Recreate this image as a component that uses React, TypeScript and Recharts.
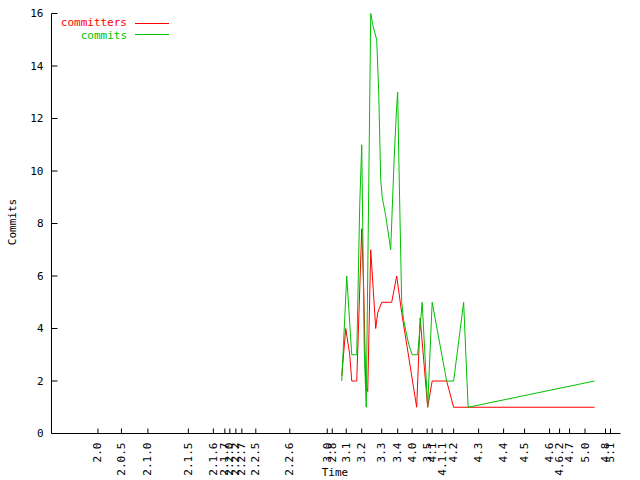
import React from "react";
import { LineChart, Line, XAxis, YAxis } from "recharts";

// release markers on the time axis (days since start)
const releaseDays = [93, 140, 193, 274, 324, 347, 357, 369, 381, 409, 477, 552, 562, 590, 621, 661, 693, 722, 752, 762, 782, 805, 855, 905, 947, 997, 1017, 1037, 1068, 1109, 1119];
const releaseLabels = ["2.0", "2.0.5", "2.1.0", "2.1.5", "2.1.6", "2.1.7", "2.2.0", "2.2.2", "2.2.7", "2.2.5", "2.2.6", "3.0", "2.8", "3.1", "3.2", "3.3", "3.4", "4.0", "3.5", "4.1", "4.1.1", "4.2", "4.3", "4.4", "4.5", "4.6", "4.6.2", "4.7", "5.0", "4.8", "5.1"];

const commitDays = [581, 591, 601, 611, 617, 621, 626, 630, 639, 644, 651, 655, 659, 662, 669, 679, 686, 691, 693, 695, 701, 705, 715, 722, 733, 742, 753, 762, 791, 805, 825, 834, 1087];
const commitCounts = [2, 6, 3, 3, 8.7, 11, 3.2, 1, 16, 15.5, 15, 13, 9.7, 9, 8.3, 7, 10.5, 12.5, 13, 10.7, 5, 4.3, 3.4, 3, 3, 5, 1, 5, 2, 2, 5, 1, 2];

const committerDays = [581, 589, 597, 601, 611, 621, 625, 629, 633, 639, 647, 649, 653, 661, 681, 691, 701, 731, 738, 753, 762, 791, 805, 1087];
const committerCounts = [2.2, 4, 3, 2, 2, 7.8, 5.5, 1.8, 1.6, 7, 4.6, 4, 4.6, 5, 5, 6, 4.6, 1, 4.4, 1, 2, 2, 1, 1];

const countTicks = [0, 2, 4, 6, 8, 10, 12, 14, 16];

const FONT = "'DejaVu Sans Mono', monospace";
const RED = "#ff0000";
const GREEN = "#00c000";

const commitData = commitDays.map((day, i) => ({ day, commits: commitCounts[i] }));
const committerData = committerDays.map((day, i) => ({ day, committers: committerCounts[i] }));

const BottomTick = (props: any) => {
  const { x, y, payload } = props;
  const label = releaseLabels[releaseDays.indexOf(payload.value)];
  const ly = y + 9;
  return (
    <g>
      <line x1={x} y1={y} x2={x} y2={y - 5} stroke="#000" />
      <text x={x} y={ly} transform={`rotate(-90 ${x} ${ly})`} textAnchor="end" dominantBaseline="central" fontFamily={FONT} fontSize={11} fill="#000">
        {label}
      </text>
    </g>
  );
};

const TopTick = (props: any) => {
  const { x, y } = props;
  return <line x1={x} y1={y} x2={x} y2={y + 5} stroke="#000" />;
};

const LeftTick = (props: any) => {
  const { x, y, payload } = props;
  return (
    <g>
      <line x1={x} y1={y} x2={x + 6} y2={y} stroke="#000" />
      <text x={x - 8} y={y} textAnchor="end" dominantBaseline="central" fontFamily={FONT} fontSize={11} fill="#000">
        {payload.value}
      </text>
    </g>
  );
};

const RightTick = (props: any) => {
  const { x, y } = props;
  return <line x1={x} y1={y} x2={x - 6} y2={y} stroke="#000" />;
};

export default function App() {
  return (
    <div style={{ position: "absolute", left: 0, top: 0, width: 640, height: 480, background: "#fff" }}>
      <LineChart width={640} height={480} margin={{ top: 13.5, right: 19.5, bottom: 0, left: 0 }}>
        <XAxis
          dataKey="day"
          type="number"
          domain={[0, 1139]}
          ticks={releaseDays}
          interval={0}
          height={46.5}
          tickSize={0}
          tickMargin={0}
          tickLine={false}
          tick={<BottomTick />}
          axisLine={{ stroke: "#000" }}
          allowDataOverflow
        />
        <XAxis
          xAxisId="top"
          orientation="top"
          dataKey="day"
          type="number"
          domain={[0, 1139]}
          ticks={releaseDays}
          interval={0}
          height={0}
          tickSize={0}
          tickMargin={0}
          tickLine={false}
          tick={<TopTick />}
          axisLine={{ stroke: "#000" }}
          allowDataOverflow
        />
        <YAxis
          type="number"
          domain={[0, 16]}
          ticks={countTicks}
          interval={0}
          width={51.5}
          tickSize={0}
          tickMargin={0}
          tickLine={false}
          tick={<LeftTick />}
          axisLine={{ stroke: "#000" }}
        />
        <YAxis
          yAxisId="right"
          orientation="right"
          type="number"
          domain={[0, 16]}
          ticks={countTicks}
          interval={0}
          width={0}
          tickSize={0}
          tickMargin={0}
          tickLine={false}
          tick={<RightTick />}
          axisLine={{ stroke: "#000" }}
        />
        <Line data={committerData} dataKey="committers" type="linear" stroke={RED} strokeWidth={1} dot={false} isAnimationActive={false} />
        <Line data={commitData} dataKey="commits" type="linear" stroke={GREEN} strokeWidth={1} dot={false} isAnimationActive={false} />
      </LineChart>
      <svg width={640} height={480} style={{ position: "absolute", left: 0, top: 0, pointerEvents: "none" }}>
        <text x={127} y={22} textAnchor="end" dominantBaseline="central" fontFamily={FONT} fontSize={11} fill={RED}>committers</text>
        <line x1={135} y1={23.5} x2={169} y2={23.5} stroke={RED} />
        <text x={127} y={35} textAnchor="end" dominantBaseline="central" fontFamily={FONT} fontSize={11} fill={GREEN}>commits</text>
        <line x1={135} y1={34.5} x2={169} y2={34.5} stroke={GREEN} />
        <text x={12} y={222} transform="rotate(-90 12 222)" textAnchor="middle" dominantBaseline="central" fontFamily={FONT} fontSize={11} fill="#000">Commits</text>
        <text x={335} y={472} textAnchor="middle" dominantBaseline="central" fontFamily={FONT} fontSize={11} fill="#000">Time</text>
      </svg>
    </div>
  );
}
